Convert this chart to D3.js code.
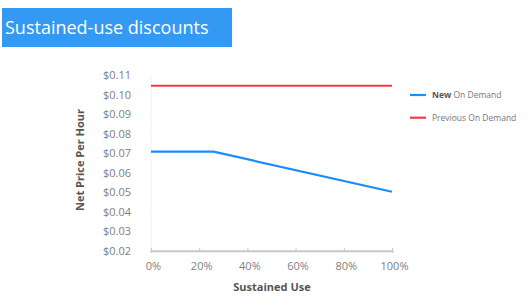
<!DOCTYPE html>
<html lang="en">
<head>
    <meta charset="UTF-8">
    <script src="https://cdn.jsdelivr.net/npm/d3@7"></script>
    <title>Sustained-use discounts</title>
    <style>
        body { margin: 0; background: #fff; font-family: 'Open Sans', sans-serif; }
        .tick text { fill: #808080; font-size: 11px; font-family: 'Open Sans', sans-serif; }
    </style>
</head>
<body>
<div id="chart"></div>
<script>
    // chart data
    const usage = [0, 0.26, 1];
    const newPrice = [0.0707, 0.0707, 0.0502];
    const prevPrice = [0.1045, 0.1045, 0.1045];
    const xTicks = [0, 0.2, 0.4, 0.6, 0.8, 1];
    const yTicks = [0.02, 0.03, 0.04, 0.05, 0.06, 0.07, 0.08, 0.09, 0.10, 0.11];
    const legendItems = [
        { bold: "New", rest: " On Demand", color: "#1a8cff" },
        { bold: "", rest: "Previous On Demand", color: "#f03a4a" }
    ];

    const width = 530, height = 299;
    const svg = d3.select("#chart").append("svg")
        .attr("width", width)
        .attr("height", height);

    // title banner
    svg.append("rect")
        .attr("x", 2).attr("y", 8)
        .attr("width", 230).attr("height", 39)
        .attr("fill", "#3399f3");
    svg.append("text")
        .attr("x", 5).attr("y", 34)
        .attr("fill", "#fff")
        .attr("font-size", "18px")
        .text("Sustained-use discounts");

    const x = d3.scaleLinear().domain([0, 1]).range([151, 392]);
    const y = d3.scaleLinear().domain([0.02, 0.11]).range([250.7, 75]);

    // faint left guide
    svg.append("line")
        .attr("x1", x(0)).attr("x2", x(0))
        .attr("y1", y(0.11)).attr("y2", y(0.02))
        .attr("stroke", "#f2f2f2");

    // x axis
    const xAxis = svg.append("g")
        .attr("transform", `translate(0,${y(0.02)})`)
        .call(d3.axisBottom(x).tickValues(xTicks).tickFormat(d3.format(".0%")).tickSize(2).tickPadding(10));
    xAxis.select(".domain").attr("stroke", "#c8c8c8").attr("stroke-width", 2);
    xAxis.selectAll(".tick line").attr("stroke", "#c8c8c8").attr("transform", "translate(0,-3)").attr("y2", 3);
    xAxis.selectAll(".tick text").attr("dx", 2);

    // y axis labels only
    const yAxis = svg.append("g")
        .attr("transform", "translate(131,0)")
        .call(d3.axisLeft(y).tickValues(yTicks).tickFormat(d => "$" + d.toFixed(2)).tickSize(0).tickPadding(0));
    yAxis.select(".domain").remove();

    // axis titles
    svg.append("text")
        .attr("x", 272).attr("y", 291)
        .attr("text-anchor", "middle")
        .attr("font-size", "11px").attr("font-weight", "bold")
        .attr("fill", "#555")
        .text("Sustained Use");
    svg.append("text")
        .attr("transform", "translate(84,160) rotate(-90)")
        .attr("text-anchor", "middle")
        .attr("font-size", "11px").attr("font-weight", "bold")
        .attr("fill", "#555")
        .text("Net Price Per Hour");

    // lines
    const line = d3.line().x((d, i) => x(usage[i])).y(d => y(d));
    svg.append("path").datum(prevPrice)
        .attr("d", line).attr("fill", "none")
        .attr("stroke", "#f03a4a").attr("stroke-width", 2.2);
    svg.append("path").datum(newPrice)
        .attr("d", line).attr("fill", "none")
        .attr("stroke", "#1a8cff").attr("stroke-width", 2.2);

    // legend
    const legend = svg.selectAll(".legend").data(legendItems).enter()
        .append("g")
        .attr("transform", (d, i) => `translate(410,${95 + i * 22.7})`);
    legend.append("line")
        .attr("x1", 0).attr("x2", 16)
        .attr("stroke", d => d.color).attr("stroke-width", 2.2);
    const lt = legend.append("text")
        .attr("x", 22).attr("dy", "0.35em")
        .attr("font-size", "8.5px").attr("fill", "#777");
    lt.append("tspan").attr("font-weight", "bold").attr("fill", "#555").text(d => d.bold);
    lt.append("tspan").text(d => d.rest);
</script>
</body>
</html>
